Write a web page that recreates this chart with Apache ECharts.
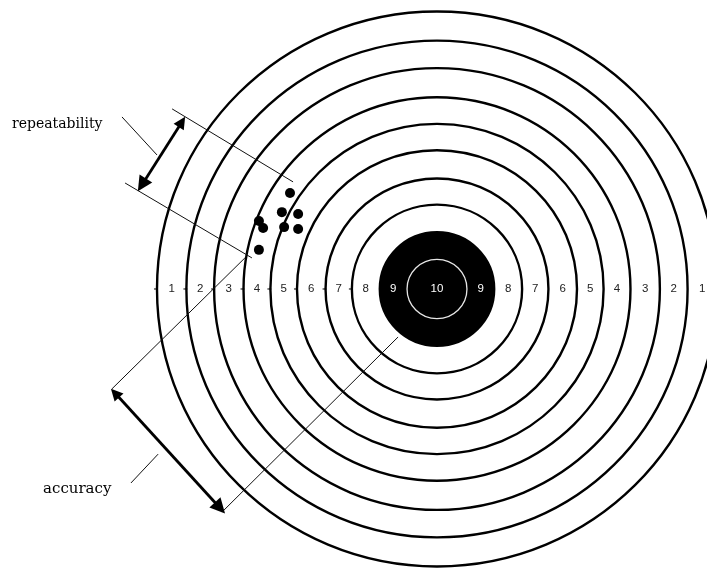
<!DOCTYPE html>
<html>
<head>
<meta charset="utf-8">
<script src="https://cdn.jsdelivr.net/npm/echarts@6/dist/echarts.min.js"></script>
<style>html,body{margin:0;padding:0;background:#fff}#c{width:707px;height:568px}</style>
</head>
<body>
<div id="c"></div>
<script>
// Score of each ring (outer to inner) and its outer radius in ring units
var ringScores = [1, 2, 3, 4, 5, 6, 7, 8, 9, 10];
var ringRadii = [10, 8.95, 7.96, 6.91, 5.95, 5.0, 3.98, 3.04, 2.05, 1.07];
// Hits (x, y) in ring units, centre of the target = (0, 0)
var hits = [
  [-5.25, 3.46], [-5.54, 2.77], [-4.96, 2.70], [-5.46, 2.23],
  [-4.96, 2.16], [-6.36, 2.45], [-6.21, 2.20], [-6.36, 1.41]
];
// Annotation guide lines
var guideLines = [
  [[-9.46, 6.49], [-5.14, 3.86]],
  [[-11.14, 3.82], [-6.61, 1.12]],
  [[-11.25, 6.20], [-10.0, 4.83]],
  [[-6.86, 1.12], [-11.61, -3.60]],
  [[-1.39, -1.73], [-7.68, -8.04]],
  [[-9.96, -5.95], [-10.93, -6.99]]
];
// Double-headed arrows
var arrows = [
  [[-9.11, 6.02], [-10.54, 3.75]],
  [[-11.5, -3.75], [-7.75, -7.89]]
];
// Annotation texts
var annotationNames = ['repeatability', 'accuracy'];
var annotationPos = [[-15.18, 5.95], [-14.07, -7.21]];
var annotationSizes = [14, 15];

var chart = echarts.init(document.getElementById('c'));

function ringItem(params, api) {
  var r = api.value(0);
  var score = api.value(1);
  var c = api.coord([0, 0]);
  var rx = api.size([r, 0])[0];
  var ry = api.size([0, r])[1];
  var children = [];
  if (score === 9) {
    children.push({type: 'ellipse', shape: {cx: c[0], cy: c[1], rx: rx, ry: ry},
      style: {fill: '#000', stroke: '#000', lineWidth: 2}});
  } else if (score === 10) {
    children.push({type: 'ellipse', shape: {cx: c[0], cy: c[1], rx: rx, ry: ry},
      style: {fill: null, stroke: '#e6e6e6', lineWidth: 1.3}});
  } else {
    children.push({type: 'ellipse', shape: {cx: c[0], cy: c[1], rx: rx, ry: ry},
      style: {fill: null, stroke: '#000', lineWidth: 2.4}});
    children.push({type: 'line', shape: {x1: c[0] - rx - 3, y1: c[1], x2: c[0] - rx + 1, y2: c[1]},
      style: {stroke: '#000', lineWidth: 1}});
  }
  return {type: 'group', children: children};
}

function labelItem(params, api) {
  var i = params.dataIndex;
  var score = ringScores[i];
  var rOut = ringRadii[i];
  var rIn = i + 1 < ringRadii.length ? ringRadii[i + 1] : 0;
  var mid = (rOut + rIn) / 2;
  var col = score >= 9 ? '#fff' : '#222';
  var font = '11.5px "Liberation Sans", Arial, sans-serif';
  var children = [];
  var positions = score === 10 ? [0] : [-mid, mid];
  positions.forEach(function (x) {
    var p = api.coord([x, 0]);
    children.push({type: 'text', x: p[0], y: p[1],
      style: {text: String(score), fill: col, font: font, align: 'center', verticalAlign: 'middle'}});
  });
  return {type: 'group', children: children};
}

var ringData = ringRadii.map(function (r, i) { return [r, ringScores[i]]; });

chart.setOption({
  animation: false,
  backgroundColor: '#fff',
  grid: {left: 0, right: 0, top: 0, bottom: 0},
  xAxis: {type: 'value', min: -15.607, max: 9.643, show: false},
  yAxis: {type: 'value', min: -10.054, max: 10.414, show: false},
  series: [
    {type: 'custom', renderItem: ringItem, data: ringData, z: 1, silent: true},
    {type: 'custom', renderItem: labelItem, data: ringData, z: 2, silent: true},
    {type: 'scatter', data: hits, symbol: 'circle', symbolSize: 10,
      itemStyle: {color: '#000', opacity: 1}, z: 3, silent: true},
    {type: 'lines', coordinateSystem: 'cartesian2d', polyline: false,
      data: guideLines.map(function (c) { return {coords: c}; }),
      lineStyle: {color: '#111', width: 1, opacity: 1}, symbol: 'none', z: 4, silent: true},
    {type: 'lines', coordinateSystem: 'cartesian2d', polyline: false,
      data: arrows.map(function (c) { return {coords: c}; }),
      lineStyle: {color: '#000', width: 2.8, opacity: 1},
      symbol: ['triangle', 'triangle'], symbolSize: [12, 15], z: 4, silent: true},
    {type: 'scatter', data: annotationPos.map(function (p, i) {
        return {value: p, name: annotationNames[i], label: {fontSize: annotationSizes[i]}};
      }),
      symbolSize: 0, silent: true, z: 5, itemStyle: {opacity: 1},
      label: {show: true, position: 'right', distance: 0, formatter: '{b}', color: '#000', opacity: 1,
        fontFamily: '"DejaVu Serif", "Liberation Serif", serif'}}
  ]
});
</script>
</body>
</html>
